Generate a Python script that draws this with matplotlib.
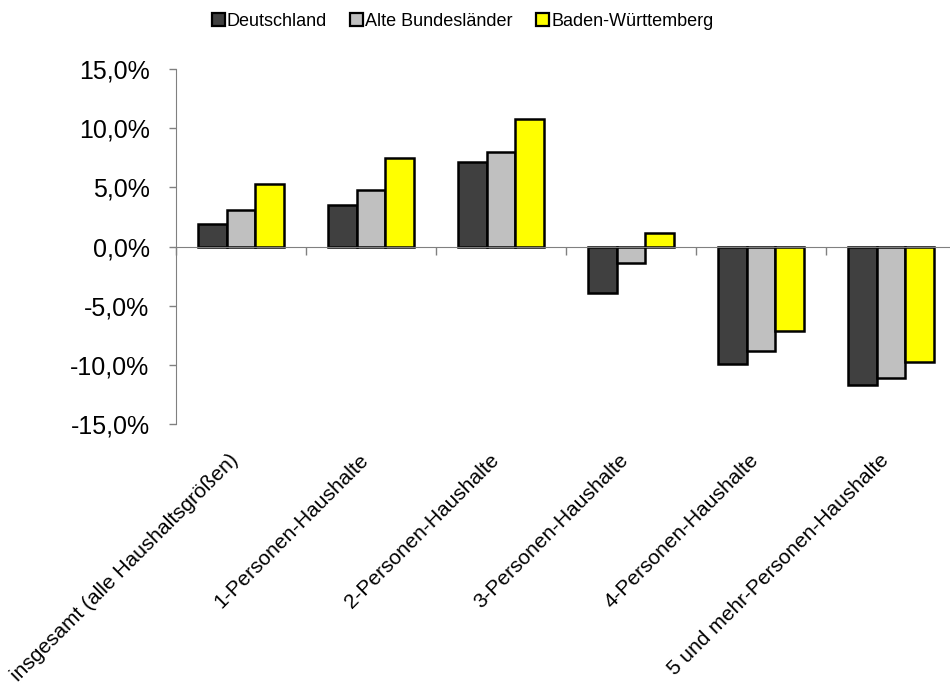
import matplotlib
matplotlib.use("Agg")
import matplotlib.pyplot as plt
import matplotlib.transforms as mtransforms
from matplotlib.patches import Patch
from matplotlib.ticker import FuncFormatter
import numpy as np

plt.rcParams['font.family'] = ['Liberation Sans', 'DejaVu Sans']

categories = [
    "insgesamt (alle Haushaltsgrößen)",
    "1-Personen-Haushalte",
    "2-Personen-Haushalte",
    "3-Personen-Haushalte",
    "4-Personen-Haushalte",
    "5 und mehr-Personen-Haushalte",
]
series_names = ["Deutschland", "Alte Bundesländer", "Baden-Württemberg"]
deutschland = [1.9, 3.5, 7.1, -3.9, -9.9, -11.7]
alte_bundeslaender = [3.1, 4.8, 8.0, -1.4, -8.8, -11.1]
baden_wuerttemberg = [5.3, 7.5, 10.8, 1.1, -7.1, -9.8]
y_ticks = [-15, -10, -5, 0, 5, 10, 15]

colors = ["#404040", "#C0C0C0", "#FFFF00"]
series = [deutschland, alte_bundeslaender, baden_wuerttemberg]

fig = plt.figure(figsize=(9.5, 6.86), dpi=100)
ax = fig.add_axes([176 / 950, 1 - 424 / 686, 780 / 950, 355 / 686])

x = np.arange(len(categories))
bar_w = 0.223
for i, (vals, col) in enumerate(zip(series, colors)):
    ax.bar(x + (i - 1) * bar_w, vals, width=bar_w, color=col,
           edgecolor="black", linewidth=1.8, zorder=3)

ax.set_xlim(-0.5, len(categories) - 0.5)
ax.set_ylim(-15, 15)
ax.set_yticks(y_ticks)
ax.yaxis.set_major_formatter(FuncFormatter(lambda v, p: f"{v:.1f}%".replace(".", ",")))
ax.tick_params(axis="y", direction="out", length=5, width=1, color="#808080",
               labelsize=18, pad=14)

for s in ["top", "right"]:
    ax.spines[s].set_visible(False)
ax.spines["left"].set_color("#808080")
ax.spines["bottom"].set_position(("data", 0))
ax.spines["bottom"].set_color("#808080")
ax.spines["bottom"].set_zorder(4)

# boundary ticks on the zero line
ax.set_xticks(np.arange(len(categories) + 1) - 0.5)
ax.set_xticklabels([])
ax.tick_params(axis="x", direction="out", length=6, width=1, color="#808080")

# rotated category labels beneath the plot area
trans = mtransforms.blended_transform_factory(ax.transData, ax.transAxes)
for xi, lab in zip(x, categories):
    ax.text(xi + 0.01, -0.075, lab, transform=trans, rotation=45,
            ha="right", va="top", fontsize=15)

handles = [Patch(facecolor=c, edgecolor="black", linewidth=1.6) for c in colors]
fig.legend(handles, series_names, loc="center", bbox_to_anchor=(0.487, 1 - 21 / 686),
           ncol=3, frameon=False, fontsize=13, handlelength=0.7, handleheight=0.7,
           handletextpad=0.12, columnspacing=1.3, borderpad=0)

fig.savefig("out.png", dpi=100)
